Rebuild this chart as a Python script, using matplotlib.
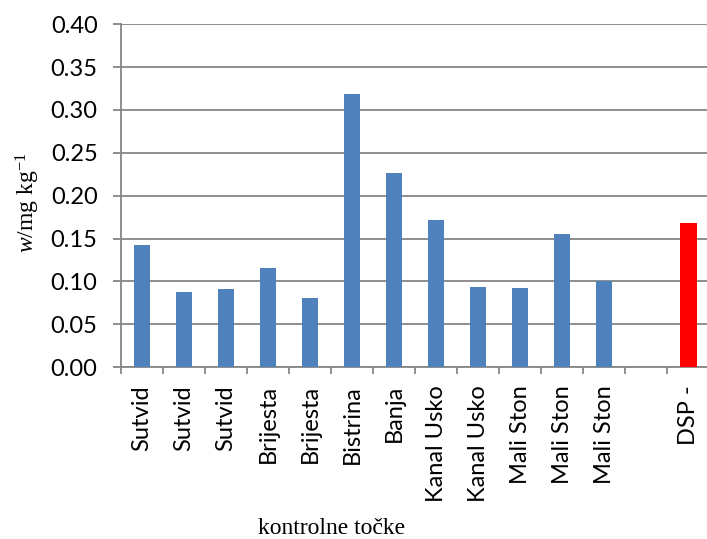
import matplotlib.pyplot as plt
import numpy as np

plt.rcParams['mathtext.fontset'] = 'custom'
plt.rcParams['mathtext.it'] = 'Liberation Serif:italic'
plt.rcParams['mathtext.rm'] = 'Liberation Serif'

# Data
categories = ['Sutvid', 'Sutvid', 'Sutvid', 'Brijesta', 'Brijesta', 'Bistrina',
              'Banja', 'Kanal Usko', 'Kanal Usko', 'Mali Ston', 'Mali Ston',
              'Mali Ston', '', 'DSP -']
values = [0.142, 0.088, 0.091, 0.116, 0.080, 0.319, 0.227, 0.172, 0.094,
          0.092, 0.155, 0.100, 0.0, 0.168]
colors = ['#4F81BD'] * 13 + ['#FF0000']

GRID = '#868686'

fig = plt.figure(figsize=(7.07, 5.39), dpi=100)
ax = fig.add_axes([0.171, 0.319, 0.832, 0.636])

x = np.arange(len(categories))
ax.bar(x, values, width=0.4, color=colors, zorder=3)

ax.set_xlim(-0.5, len(categories) - 0.5)
ax.set_ylim(0, 0.40)
yt = np.arange(0, 0.401, 0.05)
ax.set_yticks(yt)
ax.set_yticklabels([f'{v:.2f}' for v in yt], family='Lato', fontsize=17)
ax.yaxis.grid(True, color=GRID, linewidth=1.3, zorder=0)
ax.tick_params(axis='y', length=5.8, color=GRID, width=1.3, pad=11)

ax.set_xticks(x)
ax.set_xticklabels(categories, rotation=90, family='Lato', fontsize=17)
ax.set_xticks(np.arange(-0.5, len(categories)), minor=True)
ax.tick_params(axis='x', which='major', length=0, pad=13)
ax.tick_params(axis='x', which='minor', length=5, color=GRID, width=1.3)

for side in ['top', 'right']:
    ax.spines[side].set_visible(False)
for side in ['left', 'bottom']:
    ax.spines[side].set_color(GRID)
    ax.spines[side].set_linewidth(1.3)

fig.text(0.039, 0.625, r'$w$/mg kg$^{-1}$', family='Liberation Serif',
         fontsize=17, rotation=90, ha='center', va='center')
fig.text(0.469, 0.02, 'kontrolne točke', family='Liberation Serif',
         fontsize=17, ha='center', va='center')

fig.savefig('out.png', dpi=100)
